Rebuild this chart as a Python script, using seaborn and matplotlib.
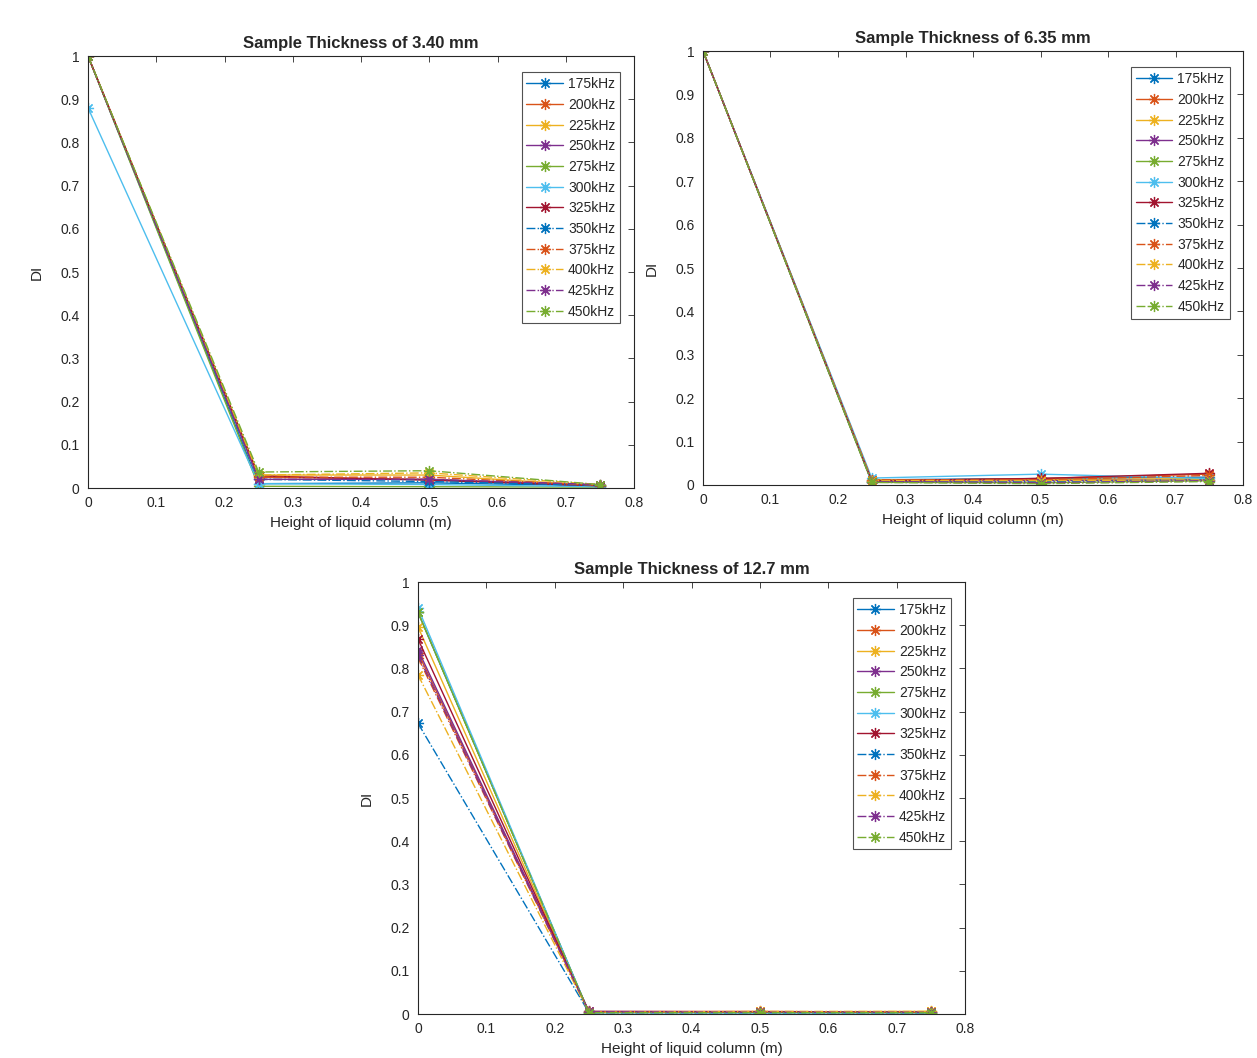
import numpy as np
import pandas as pd
import matplotlib
matplotlib.use("Agg")
import matplotlib.pyplot as plt
import seaborn as sns

heights = [0, 0.25, 0.5, 0.75]
freqs = ["175kHz", "200kHz", "225kHz", "250kHz", "275kHz", "300kHz", "325kHz",
         "350kHz", "375kHz", "400kHz", "425kHz", "450kHz"]

di_340 = {
    "175kHz": [1.0, 0.010, 0.012, 0.005],
    "200kHz": [1.0, 0.025, 0.020, 0.005],
    "225kHz": [1.0, 0.030, 0.030, 0.005],
    "250kHz": [1.0, 0.020, 0.020, 0.005],
    "275kHz": [1.0, 0.004, 0.003, 0.002],
    "300kHz": [0.88, 0.010, 0.008, 0.003],
    "325kHz": [1.0, 0.028, 0.018, 0.005],
    "350kHz": [1.0, 0.020, 0.015, 0.006],
    "375kHz": [1.0, 0.025, 0.025, 0.006],
    "400kHz": [1.0, 0.030, 0.035, 0.008],
    "425kHz": [1.0, 0.020, 0.020, 0.008],
    "450kHz": [1.0, 0.037, 0.040, 0.008],
}
di_635 = {
    "175kHz": [1.0, 0.012, 0.015, 0.018],
    "200kHz": [1.0, 0.010, 0.015, 0.025],
    "225kHz": [1.0, 0.012, 0.012, 0.015],
    "250kHz": [1.0, 0.008, 0.010, 0.012],
    "275kHz": [1.0, 0.006, 0.005, 0.010],
    "300kHz": [1.0, 0.016, 0.025, 0.015],
    "325kHz": [1.0, 0.010, 0.015, 0.027],
    "350kHz": [1.0, 0.008, 0.008, 0.012],
    "375kHz": [1.0, 0.012, 0.012, 0.022],
    "400kHz": [1.0, 0.010, 0.010, 0.012],
    "425kHz": [1.0, 0.008, 0.005, 0.010],
    "450kHz": [1.0, 0.006, 0.003, 0.008],
}
di_127 = {
    "175kHz": [0.93, 0.004, 0.004, 0.003],
    "200kHz": [0.836, 0.006, 0.006, 0.004],
    "225kHz": [0.896, 0.004, 0.005, 0.006],
    "250kHz": [0.843, 0.006, 0.005, 0.004],
    "275kHz": [0.93, 0.003, 0.003, 0.003],
    "300kHz": [0.94, 0.003, 0.002, 0.003],
    "325kHz": [0.868, 0.005, 0.005, 0.004],
    "350kHz": [0.673, 0.003, 0.003, 0.003],
    "375kHz": [0.825, 0.005, 0.005, 0.004],
    "400kHz": [0.785, 0.004, 0.006, 0.006],
    "425kHz": [0.83, 0.005, 0.004, 0.004],
    "450kHz": [0.93, 0.003, 0.003, 0.003],
}

titles = ["Sample Thickness of 3.40 mm", "Sample Thickness of 6.35 mm",
          "Sample Thickness of 12.7 mm"]

mcolors = [(0, 0.447, 0.741), (0.85, 0.325, 0.098), (0.929, 0.694, 0.125),
           (0.494, 0.184, 0.556), (0.466, 0.674, 0.188), (0.301, 0.745, 0.933),
           (0.635, 0.078, 0.184)]

sns.set_style("white")
plt.rcParams["font.family"] = ["Liberation Sans", "DejaVu Sans"]

fig = plt.figure(figsize=(12.57, 10.58), dpi=100)
W, H = 1257, 1058
def rect(l, r, t, b):
    return [l / W, 1 - b / H, (r - l) / W, (b - t) / H]

axes = [fig.add_axes(rect(88, 634, 56, 488)),
        fig.add_axes(rect(703, 1243, 51, 485)),
        fig.add_axes(rect(418, 965, 582, 1014))]

for ax, data, title in zip(axes, [di_340, di_635, di_127], titles):
    for i, f in enumerate(freqs):
        df = pd.DataFrame({"h": heights, "di": data[f]})
        ls = "-" if i < 7 else "-."
        c = mcolors[i % 7]
        sns.lineplot(data=df, x="h", y="di", ax=ax, color=c,
                     linestyle=ls, marker=(8, 2, 0), markersize=8,
                     markeredgewidth=0.9, markeredgecolor=c, markerfacecolor=c,
                     linewidth=1.0, label=f)
    ax.set_xlim(0, 0.8)
    ax.set_ylim(0, 1)
    ax.set_xticks(np.arange(0, 0.81, 0.1))
    ax.set_xticklabels(["0", "0.1", "0.2", "0.3", "0.4", "0.5", "0.6", "0.7", "0.8"])
    ax.set_yticks(np.arange(0, 1.01, 0.1))
    ax.set_yticklabels(["0", "0.1", "0.2", "0.3", "0.4", "0.5", "0.6", "0.7",
                        "0.8", "0.9", "1"])
    ax.tick_params(direction="in", length=4, top=True, right=True, labelsize=10,
                   colors="#262626", width=0.6, pad=6)
    for s in ax.spines.values():
        s.set_color("#262626")
        s.set_linewidth(0.8)
    ax.set_title(title, fontsize=12, fontweight="bold", pad=6)
    ax.set_xlabel("Height of liquid column (m)", fontsize=11, labelpad=4)
    ax.set_ylabel("DI", fontsize=11, labelpad=12)
    leg = ax.legend(loc="upper right", fontsize=10, frameon=True, fancybox=False,
                    edgecolor="#262626", handlelength=2.6, borderpad=0.35,
                    labelspacing=0.48, handletextpad=0.4, borderaxespad=0,
                    bbox_to_anchor=(0.975, 0.962))
    leg.get_frame().set_linewidth(0.8)

fig.savefig("out.png", dpi=100, facecolor="white")
